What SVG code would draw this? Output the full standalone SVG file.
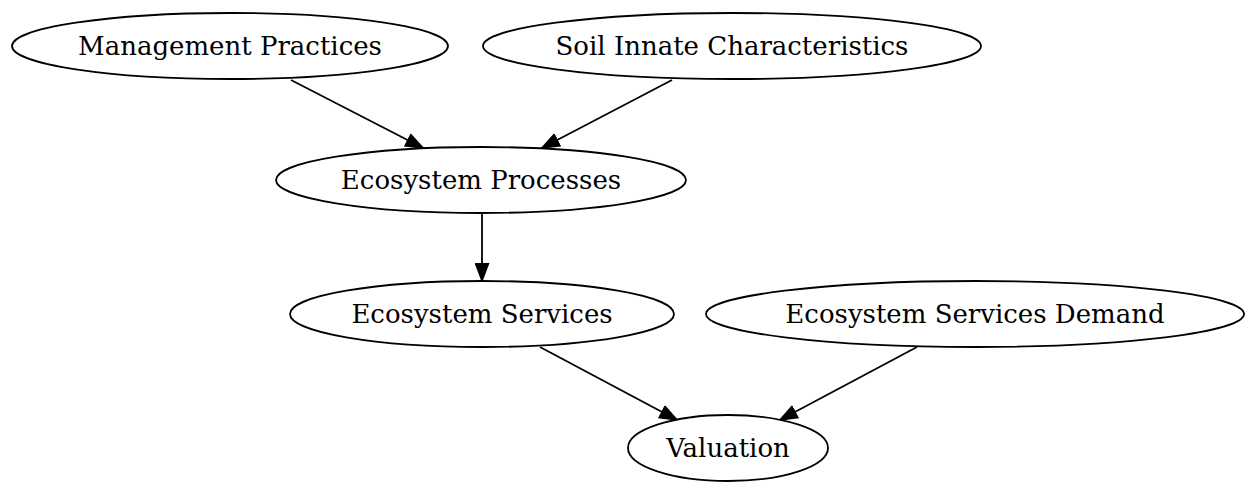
<svg xmlns="http://www.w3.org/2000/svg" width="1249" height="484" viewBox="0 0 1249 484">
<style>
.node ellipse{fill:#fff;stroke:#000;stroke-width:1.8}
.node text{font-family:"DejaVu Serif",serif;font-size:26px;fill:#000;text-anchor:middle}
.edges line{stroke:#000;stroke-width:1.8;marker-end:url(#arr)}
</style>
<defs>
<marker id="arr" viewBox="0 0 20 15" refX="20" refY="7.5" markerWidth="20" markerHeight="15" markerUnits="userSpaceOnUse" orient="auto">
<path d="M0,0 L20,7.5 L0,15 z" fill="#000"/>
</marker>
</defs>
<rect width="1249" height="484" fill="#fff"/>
<g class="edges">
<line x1="291" y1="80" x2="425" y2="149"/>
<line x1="672" y1="80" x2="540" y2="149"/>
<line x1="482" y1="213" x2="482" y2="283"/>
<line x1="540" y1="347" x2="679" y2="421"/>
<line x1="917" y1="347" x2="778" y2="421"/>
</g>
<g id="mp" class="node"><ellipse cx="230" cy="46" rx="218" ry="33"/><text x="230" y="55">Management Practices</text></g>
<g id="sic" class="node"><ellipse cx="732" cy="46" rx="249" ry="33"/><text x="732" y="55">Soil Innate Characteristics</text></g>
<g id="ep" class="node"><ellipse cx="481" cy="180" rx="205" ry="33"/><text x="481" y="189">Ecosystem Processes</text></g>
<g id="es" class="node"><ellipse cx="482" cy="314" rx="192" ry="33"/><text x="482" y="323">Ecosystem Services</text></g>
<g id="esd" class="node"><ellipse cx="975" cy="314" rx="269" ry="33"/><text x="975" y="323">Ecosystem Services Demand</text></g>
<g id="val" class="node"><ellipse cx="728" cy="448" rx="100" ry="33"/><text x="728" y="457">Valuation</text></g>
</svg>
